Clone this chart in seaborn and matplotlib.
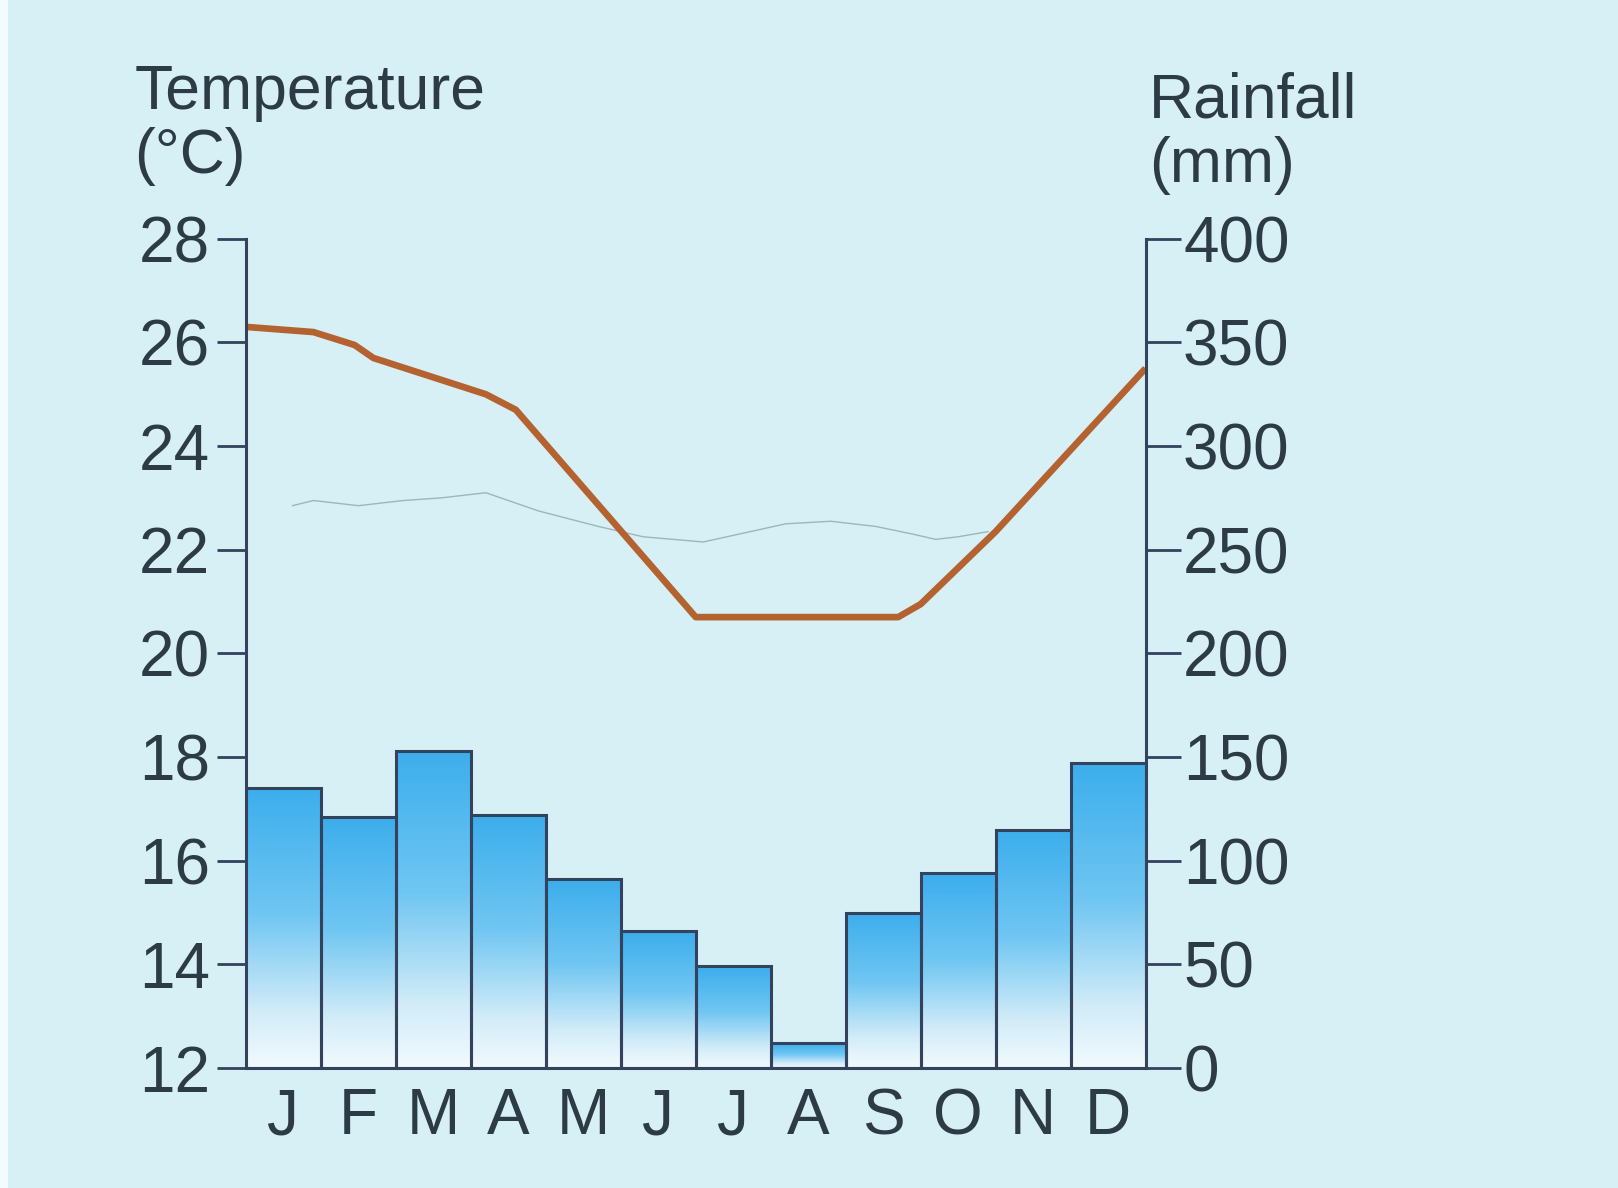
import numpy as np
import pandas as pd
import matplotlib
matplotlib.use("Agg")
import matplotlib.pyplot as plt
import seaborn as sns
from matplotlib.colors import LinearSegmentedColormap

# ---- data ----
month_labels = ["J", "F", "M", "A", "M", "J", "J", "A", "S", "O", "N", "D"]
rainfall_mm = [135, 121, 153, 122, 91, 66, 49, 12, 75, 94, 115, 147]

# temperature line vertices (position in month units, J = 0; axis edges at -0.5 / 11.5)
temp_pos = [-0.5, 0.4, 0.95, 1.2, 2.7, 3.1, 5.5, 8.2, 8.5, 9.5, 11.5]
temp_c = [26.3, 26.2, 25.95, 25.7, 25.0, 24.7, 20.7, 20.7, 20.95, 22.35, 25.5]

# faint pencil trace on the scan
trace_pos = [0.12, 0.4, 1.0, 1.6, 2.1, 2.7, 3.4, 4.2, 4.8, 5.6, 6.7, 7.3, 7.9, 8.4, 8.7, 9.0, 9.4]
trace_c = [22.85, 22.95, 22.85, 22.95, 23.0, 23.1, 22.75, 22.45, 22.25, 22.15, 22.5, 22.55, 22.45, 22.3, 22.2, 22.25, 22.35]

temp_ticks = [12, 14, 16, 18, 20, 22, 24, 26, 28]
rain_ticks = [0, 50, 100, 150, 200, 250, 300, 350, 400]

# ---- styling ----
sns.set_theme(style="white")
plt.rcParams["font.family"] = ["Liberation Sans", "DejaVu Sans"]

bg = "#d6f0f6"
ink = "#2c3b46"
edge = "#34425e"
line_col = "#b4622f"

fig = plt.figure(figsize=(16.18, 11.88), dpi=100, facecolor=bg)
ax = fig.add_axes([0.152, 0.101, 0.556, 0.698])
ax.set_facecolor("none")
ax2 = ax.twinx()
ax2.set_facecolor("none")

# rainfall bars (right axis)
rain_df = pd.DataFrame({"m": np.arange(12), "rain": rainfall_mm})
sns.barplot(data=rain_df, x="m", y="rain", ax=ax2, width=1.0, color="#4ab4ee",
            edgecolor=edge, linewidth=2.2, saturation=1)

cmap = LinearSegmentedColormap.from_list(
    "rainfade", [(0.0, "#f2fafd"), (0.2, "#d2ecf8"), (0.55, "#70c6f2"), (1.0, "#3caeec")])
grad = np.linspace(0, 1, 256).reshape(-1, 1)
for p in ax2.patches:
    x0, y0 = p.get_x(), p.get_y()
    w, h = p.get_width(), p.get_height()
    im = ax2.imshow(grad, cmap=cmap, origin="lower", aspect="auto",
                    extent=[x0, x0 + w, y0, y0 + h], zorder=p.get_zorder() - 0.1,
                    interpolation="bicubic")
    im.set_clip_path(p)
    p.set_facecolor("none")
    p.set_zorder(3)

ax2.set_xlim(-0.5, 11.5)
ax2.set_ylim(0, 400)
ax2.set_yticks(rain_ticks)
ax2.set_yticklabels([str(t) for t in rain_ticks])
ax2.set_ylabel("")
ax2.set_xlabel("")

# temperature line (left axis)
sns.lineplot(x=trace_pos, y=trace_c, ax=ax, color="#7c8c98", linewidth=1.0, alpha=0.6,
             sort=False)
sns.lineplot(x=temp_pos, y=temp_c, ax=ax, color=line_col, linewidth=4.8, sort=False,
             solid_joinstyle="round", solid_capstyle="butt")
ax.set_xlim(-0.5, 11.5)
ax.set_ylim(12, 28)
ax.set_yticks(temp_ticks)
ax.set_yticklabels([str(t) for t in temp_ticks])
ax.set_xticks(np.arange(12))
ax.set_xticklabels(month_labels)
ax.set_xlabel("")
ax.set_ylabel("")

for a in (ax, ax2):
    for s in a.spines.values():
        s.set_visible(False)
ax.spines["left"].set_visible(True)
ax.spines["left"].set_color(edge)
ax.spines["left"].set_linewidth(2.2)
ax2.spines["right"].set_visible(True)
ax2.spines["right"].set_color(edge)
ax2.spines["right"].set_linewidth(2.2)
ax2.spines["bottom"].set_visible(True)
ax2.spines["bottom"].set_color(edge)
ax2.spines["bottom"].set_linewidth(2.2)

ax.tick_params(axis="y", which="both", left=True, right=False, direction="out",
               length=21, width=2.0, color=edge, pad=5, labelsize=46, labelcolor=ink)
ax2.tick_params(axis="y", which="both", right=True, left=False, direction="out",
                length=25, width=2.0, color=edge, pad=2, labelsize=46, labelcolor=ink)
ax.tick_params(axis="x", bottom=True, length=0, pad=14, labelbottom=True,
               labelsize=46, labelcolor=ink)
for lab in ax.get_xticklabels():
    lab.set_fontfamily(["Liberation Sans Narrow", "Liberation Sans", "DejaVu Sans"])

fig.text(0.083, 0.947, "Temperature\n(°C)", ha="left", va="top", fontsize=45,
         color=ink, linespacing=1.12)
fig.text(0.710, 0.940, "Rainfall\n(mm)", ha="left", va="top", fontsize=45,
         color=ink, linespacing=1.12)

# white scan margin on the left
fig.patches.append(plt.Rectangle((0, 0), 0.005, 1, transform=fig.transFigure,
                                 facecolor="#f4fbfd", edgecolor="none", zorder=0))

fig.savefig("out.png", dpi=100, facecolor=bg)
